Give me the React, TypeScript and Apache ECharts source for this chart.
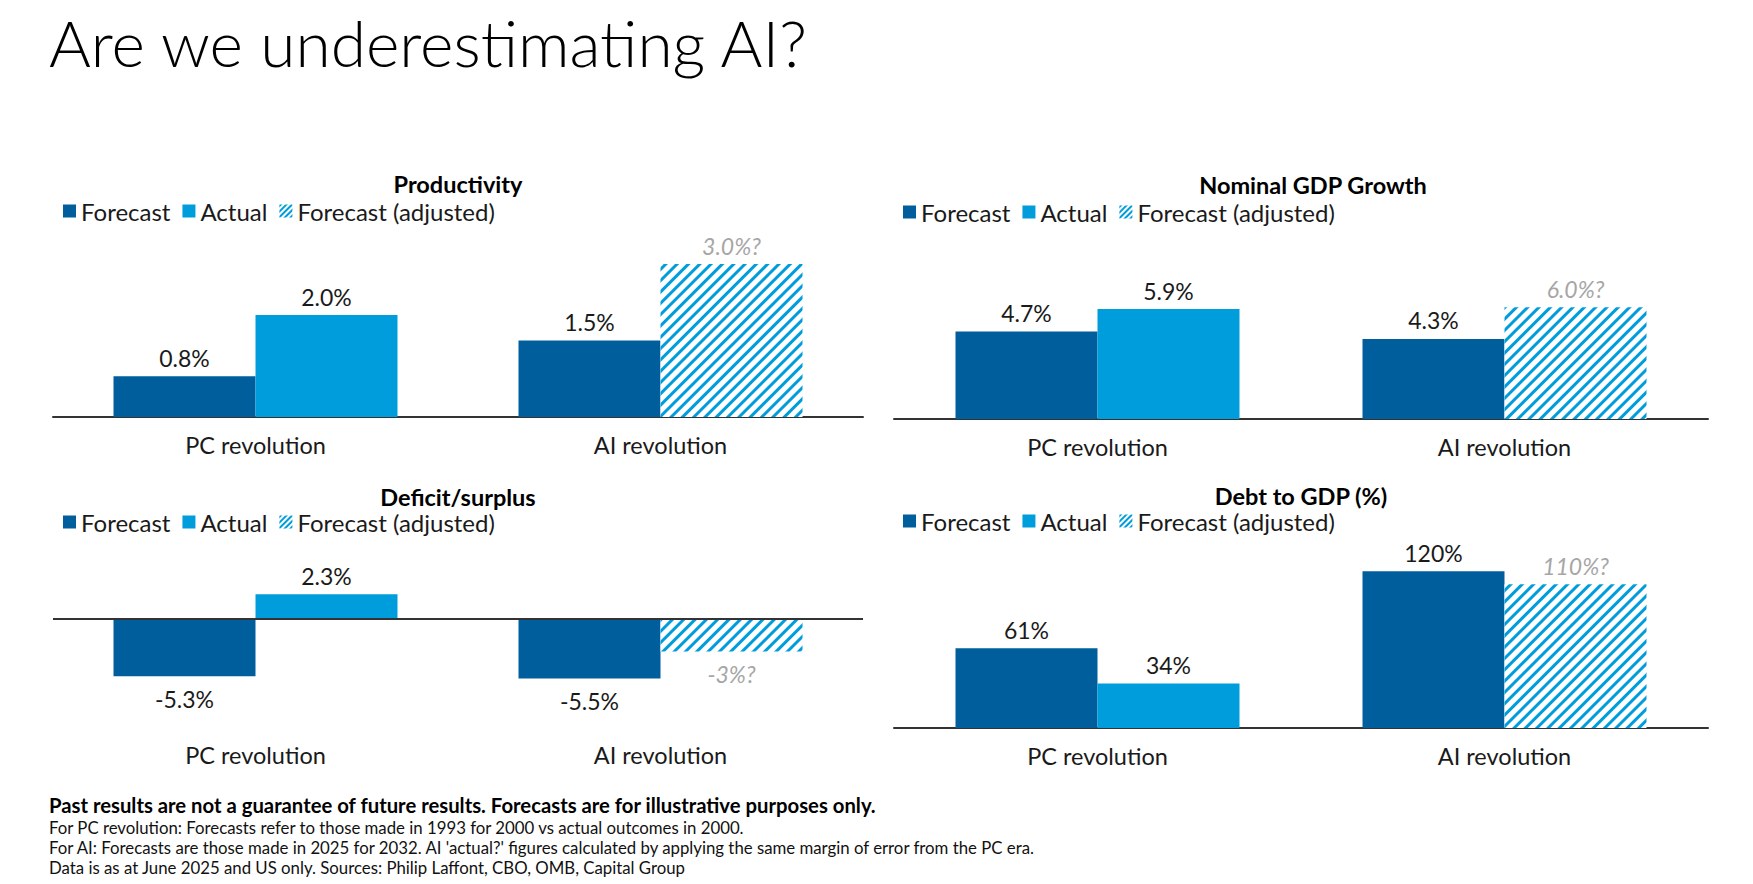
import React, { useEffect, useRef } from "react";
import * as echarts from "echarts";

const W = 1753;
const H = 884;
const FONT = "Lato, 'Noto Sans', sans-serif";

// ---- data ----
const categories = ["PC revolution", "AI revolution"];

const productivityForecast = [0.8, 1.5];
const productivityActual = [2.0, null];
const productivityAdjusted = [null, 3.0];

const gdpForecast = [4.7, 4.3];
const gdpActual = [5.9, null];
const gdpAdjusted = [null, 6.0];

const deficitForecast = [-5.3, -5.5];
const deficitActual = [2.3, null];
const deficitAdjusted = [null, -3];

const debtForecast = [61, 120];
const debtActual = [34, null];
const debtAdjusted = [null, 110];

const seriesNames = ["Forecast", "Actual", "Forecast (adjusted)"];

const footnoteBold =
  "Past results are not a guarantee of future results. Forecasts are for illustrative purposes only.";
const footnotes = [
  "For PC revolution: Forecasts refer to those made in 1993 for 2000 vs actual outcomes in 2000.",
  "For AI: Forecasts are those made in 2025 for 2032. AI 'actual?' figures calculated by applying the same margin of error from the PC era.",
  "Data is as at June 2025 and US only. Sources: Philip Laffont, CBO, OMB, Capital Group",
];

// ---- panel layout ----
const panels = [
  {
    title: "Productivity",
    forecast: productivityForecast,
    actual: productivityActual,
    adjusted: productivityAdjusted,
    decimals: 1,
    adjDecimals: 1,
    min: 0,
    max: 4,
    grid: { left: 53, width: 810, top: 213, height: 204 },
    titleX: 458,
    titleY: 184,
    legendLeft: 63,
    legendTop: 199,
    zeroLine: false,
  },
  {
    title: "Nominal GDP Growth",
    forecast: gdpForecast,
    actual: gdpActual,
    adjusted: gdpAdjusted,
    decimals: 1,
    adjDecimals: 1,
    min: 0,
    max: 8,
    grid: { left: 894, width: 814, top: 270, height: 149 },
    titleX: 1313,
    titleY: 185,
    legendLeft: 903,
    legendTop: 200,
    zeroLine: false,
  },
  {
    title: "Deficit/surplus",
    forecast: deficitForecast,
    actual: deficitActual,
    adjusted: deficitAdjusted,
    decimals: 1,
    adjDecimals: 0,
    min: -10,
    max: 4,
    grid: { left: 53, width: 810, top: 576, height: 151 },
    titleX: 458,
    titleY: 497,
    legendLeft: 63,
    legendTop: 510,
    zeroLine: true,
  },
  {
    title: "Debt to GDP (%)",
    forecast: debtForecast,
    actual: debtActual,
    adjusted: debtAdjusted,
    decimals: 0,
    adjDecimals: 0,
    min: 0,
    max: 150,
    grid: { left: 894, width: 814, top: 532, height: 196 },
    titleX: 1301,
    titleY: 496,
    legendLeft: 903,
    legendTop: 509,
    zeroLine: false,
  },
];

const DARK = "#005e9d";
const LIGHT = "#009ddc";
const INK = "#1a1a1a";
const GREY_LABEL = "#a6a6a6";

const hatch = {
  symbol: "rect",
  symbolSize: 1,
  color: LIGHT,
  dashArrayX: [1, 0],
  dashArrayY: [3, 5],
  rotation: -Math.PI / 4,
};

// finer stripes so the small legend swatch shows several of them
const legendHatch = { ...hatch, dashArrayY: [1.5, 2] };

function toItems(values: (number | null)[]) {
  return values.map((v) =>
    v === null
      ? "-"
      : { value: v, label: { position: v < 0 ? "bottom" : "top", distance: v < 0 ? 11 : 7 } }
  );
}

function buildOption() {
  const grids: any[] = [];
  const xAxes: any[] = [];
  const yAxes: any[] = [];
  const series: any[] = [];
  const legends: any[] = [];
  const graphics: any[] = [];

  panels.forEach((p, i) => {
    grids.push({ ...p.grid, containLabel: false });
    xAxes.push({
      type: "category",
      gridIndex: i,
      data: categories,
      axisTick: { show: false },
      axisLine: p.zeroLine
        ? { show: false, onZero: false }
        : { show: true, lineStyle: { color: "#333", width: 2 } },
      axisLabel: { fontSize: 23.5, color: INK, fontFamily: FONT, margin: 16 },
    });
    yAxes.push({ type: "value", gridIndex: i, min: p.min, max: p.max, show: false, splitLine: { show: false } });

    const valueLabel = (decimals: number, suffix: string, italic: boolean) => ({
      show: true,
      fontSize: 23,
      fontFamily: FONT,
      color: italic ? GREY_LABEL : INK,
      fontStyle: italic ? "italic" : "normal",
      formatter: (q: any) => Number(q.value).toFixed(decimals) + "%" + suffix,
    });

    series.push({
      name: seriesNames[0],
      type: "bar",
      xAxisIndex: i,
      yAxisIndex: i,
      barWidth: 142,
      barGap: "0%",
      itemStyle: { color: DARK },
      label: valueLabel(p.decimals, "", false),
      data: toItems(p.forecast),
      markLine: p.zeroLine
        ? {
            silent: true,
            symbol: ["none", "none"],
            label: { show: false },
            lineStyle: { color: "#333", width: 2, type: "solid" },
            data: [{ yAxis: 0 }],
          }
        : undefined,
    });
    series.push({
      name: seriesNames[1],
      type: "bar",
      xAxisIndex: i,
      yAxisIndex: i,
      stack: "s" + i,
      barWidth: 142,
      barGap: "0%",
      itemStyle: { color: LIGHT },
      label: valueLabel(p.decimals, "", false),
      data: toItems(p.actual),
    });
    series.push({
      name: seriesNames[2],
      type: "bar",
      xAxisIndex: i,
      yAxisIndex: i,
      stack: "s" + i,
      barWidth: 142,
      barGap: "0%",
      itemStyle: { color: "#ffffff", decal: hatch },
      label: valueLabel(p.adjDecimals, "?", true),
      data: toItems(p.adjusted),
    });

    legends.push({
      left: p.legendLeft,
      top: p.legendTop,
      padding: 0,
      itemWidth: 13,
      itemHeight: 13,
      itemGap: 12,
      icon: "rect",
      selectedMode: false,
      data: [
        seriesNames[0],
        seriesNames[1],
        { name: seriesNames[2], itemStyle: { color: "#ffffff", decal: legendHatch } },
      ],
      textStyle: { fontSize: 24, lineHeight: 22, color: INK, fontFamily: FONT },
    });

    graphics.push({
      type: "text",
      x: p.titleX,
      y: p.titleY,
      style: {
        text: p.title,
        fontSize: 23.5,
        lineHeight: 20,
        fontWeight: "bold",
        fontFamily: FONT,
        fill: "#000",
        align: "center",
        verticalAlign: "middle",
      },
    });
  });

  graphics.push({
    type: "text",
    x: 49,
    y: 42,
    style: {
      text: "Are we underestimating AI?",
      fontSize: 64,
      fontWeight: 300,
      fontFamily: FONT,
      fill: "#000",
      align: "left",
      verticalAlign: "middle",
    },
  });
  graphics.push({
    type: "text",
    x: 49,
    y: 805,
    style: {
      text: footnoteBold,
      fontSize: 20.3,
      lineHeight: 18,
      fontWeight: "bold",
      fontFamily: FONT,
      fill: "#000",
      align: "left",
      verticalAlign: "middle",
    },
  });
  footnotes.forEach((t, k) => {
    graphics.push({
      type: "text",
      x: 49,
      y: 827 + k * 20.3,
      style: {
        text: t,
        fontSize: 16.8,
        lineHeight: 18,
        fontFamily: FONT,
        fill: "#111",
        align: "left",
        verticalAlign: "middle",
      },
    });
  });

  return {
    animation: false,
    backgroundColor: "#ffffff",
    textStyle: { fontFamily: FONT },
    grid: grids,
    xAxis: xAxes,
    yAxis: yAxes,
    legend: legends,
    series,
    graphic: graphics,
  };
}

export default function App() {
  const ref = useRef<HTMLDivElement>(null);
  useEffect(() => {
    if (!ref.current) return;
    const chart = echarts.init(ref.current, null, { renderer: "svg", width: W, height: H });
    chart.setOption(buildOption() as any);
    return () => chart.dispose();
  }, []);
  return (
    <div
      ref={ref}
      style={{ position: "absolute", left: 0, top: 0, width: W, height: H, background: "#fff" }}
    />
  );
}
